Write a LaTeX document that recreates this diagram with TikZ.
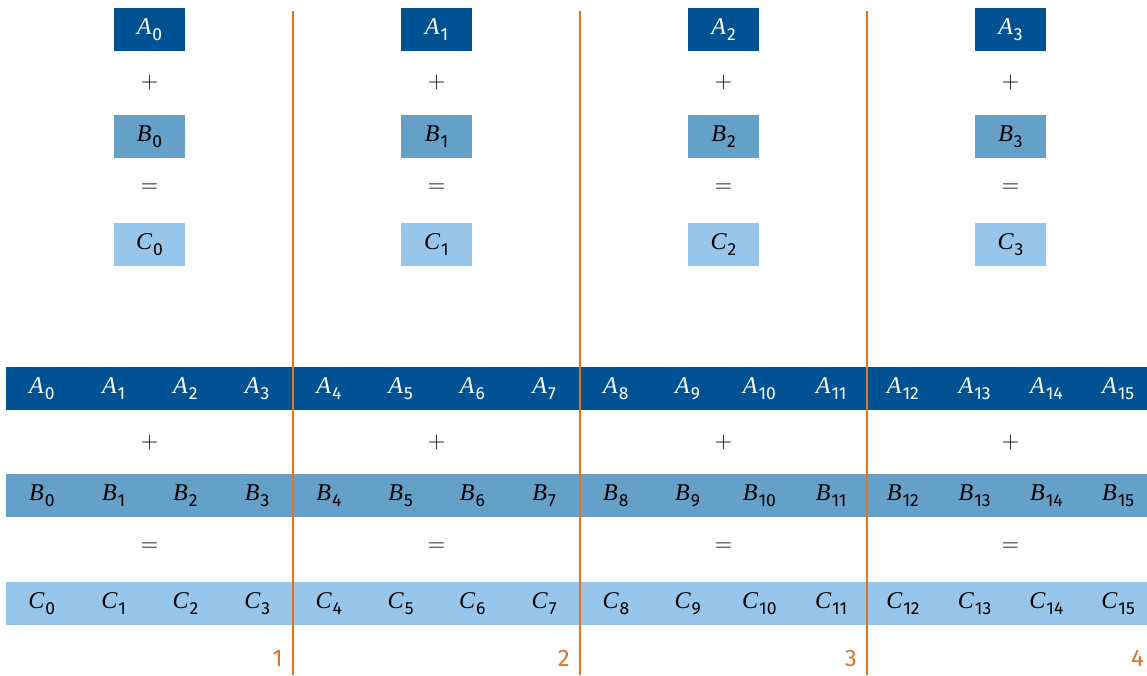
\documentclass[tikz,border=0pt]{standalone}
\usepackage{fontspec}
\newfontfamily\fira{Fira Sans}
\newfontfamily\serifit{Liberation Serif}
\definecolor{tumdark}{HTML}{005293}
\definecolor{tumlight}{HTML}{64A0C8}
\definecolor{tumlighter}{HTML}{98C6EA}
\definecolor{tumorange}{HTML}{E37222}
\newcommand{\vsub}[2]{{\serifit\itshape\fontsize{24}{26}\selectfont #1}\kern1pt\raisebox{-6pt}{\fira\fontsize{17.5}{20}\selectfont #2}}
\tikzset{
  cellbox/.style={minimum width=71.75pt, minimum height=43pt, inner sep=0pt, outer sep=0pt, font=\fontsize{23.5}{26}\selectfont},
  acell/.style={cellbox, fill=tumdark, text=white},
  bcell/.style={cellbox, fill=tumlight, text=black},
  ccell/.style={cellbox, fill=tumlighter, text=black},
  opsym/.style={inner sep=0pt, text=black, font=\fontsize{24}{26}\selectfont},
  numlabel/.style={inner sep=0pt, anchor=south east, text=tumorange, font=\fira\fontsize{24}{26}\selectfont},
  sepline/.style={draw=tumorange, line width=1.8pt},
}
\begin{document}
\begin{tikzpicture}[x=1pt,y=-1pt]
\useasboundingbox (0,0) rectangle (1147,675);
\clip (0,0) rectangle (1147,675);
% bottom rows
\foreach \i in {0,...,15}{
  \pgfmathsetmacro{\cx}{6+71.75*(\i+0.5)}
  \node[acell] (a\i) at (\cx,388.5) {\vsub{A}{\i}};
  \node[bcell] (b\i) at (\cx,495.5) {\vsub{B}{\i}};
  \node[ccell] (c\i) at (\cx,603.5) {\vsub{C}{\i}};
}
% groups
\foreach \g in {0,...,3}{
  \pgfmathsetmacro{\gx}{6+287*(\g+0.5)}
  \node[acell] (ta\g) at (\gx,29.5) {\vsub{A}{\g}};
  \node[opsym] (tp\g) at (\gx,83) {+};
  \node[bcell] (tb\g) at (\gx,136.5) {\vsub{B}{\g}};
  \node[opsym] (te\g) at (\gx,188) {=};
  \node[ccell] (tc\g) at (\gx,244.5) {\vsub{C}{\g}};
  \node[opsym] (p\g) at (\gx,443) {+};
  \node[opsym] (e\g) at (\gx,547) {=};
}
% separators
\foreach \k in {1,2,3}{
  \pgfmathsetmacro{\lx}{6+287*\k}
  \coordinate (st\k) at (\lx,11);
  \coordinate (sb\k) at (\lx,675);
  \draw[sepline] (st\k) -- (sb\k);
}
% numbers
\foreach \k in {1,...,4}{
  \pgfmathsetmacro{\nx}{6+287*\k-10}
  \node[numlabel] (n\k) at (\nx,667) {\k};
}
\end{tikzpicture}
\end{document}
